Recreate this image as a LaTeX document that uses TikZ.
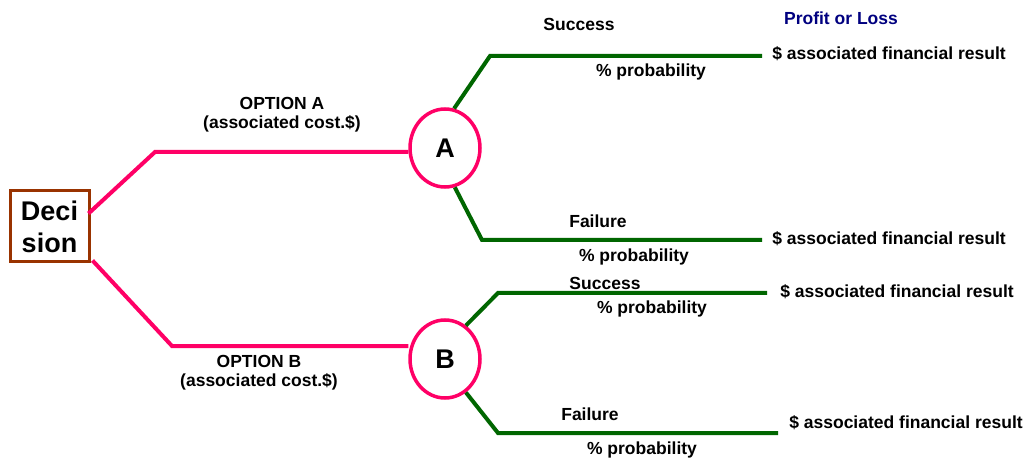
\documentclass[tikz,border=0pt]{standalone}
\usepackage{fontspec}
\setmainfont{Liberation Sans}
\usetikzlibrary{shapes.geometric}
\definecolor{pinkc}{HTML}{FF0066}
\definecolor{greenc}{HTML}{006600}
\definecolor{brownc}{HTML}{993300}
\definecolor{navyc}{HTML}{000080}
\begin{document}
\begin{tikzpicture}[x=1pt,y=-1pt,
  lbl/.style={font=\fontsize{17.5}{20}\selectfont\bfseries, inner sep=0pt, anchor=center},
  big/.style={font=\fontsize{27}{31}\selectfont\bfseries},
  pinkline/.style={draw=pinkc, line width=4pt},
  greenline/.style={draw=greenc, line width=4pt},
  chance/.style={ellipse, draw=pinkc, line width=3.5pt, minimum width=70pt, minimum height=78pt, inner sep=0pt, big}
]
\useasboundingbox[fill=white] (0,0) rectangle (1034,465);
% decision box
\node[draw=brownc, line width=3pt, minimum width=79pt, minimum height=71pt, inner sep=0pt, big, align=center] (dec) at (49.5,226.5) {Deci\\[1pt]sion};
% chance nodes
\node[chance] (A) at (445,148) {A};
\node[chance] (B) at (445,359) {B};
% bends
\coordinate (a1) at (155,152);
\coordinate (b1) at (172,346);
\coordinate (as) at (490,56);
\coordinate (ase) at (762,56);
\coordinate (af) at (482,240);
\coordinate (afe) at (762,240);
\coordinate (bs) at (498,293);
\coordinate (bse) at (767,293);
\coordinate (bf) at (498,433);
\coordinate (bfe) at (778,433);
% pink connectors
\draw[pinkline] ([yshift=13pt]dec.east) ++(-2,0) -- (a1) -- (A.west |- a1);
\draw[pinkline] ([yshift=-34pt]dec.east) ++(2,0) -- (b1) -- (B.west |- b1);
% green connectors
\draw[greenline] (A.77) -- (as) -- (ase);
\draw[greenline] (A.-76) -- (af) -- (afe);
\draw[greenline] (B.58) -- (bs) -- (bse);
\draw[greenline] (B.-58) -- (bf) -- (bfe);
% labels
\node[lbl] (t1) at (579,24) {Success};
\node[lbl, text=navyc] (t2) at (841,18) {Profit or Loss};
\node[lbl] (t3) at (889,54) {\$ associated financial result};
\node[lbl] (t4) at (651,72) {\% probability};
\node[lbl] (t5) at (282,103) {OPTION A};
\node[lbl] (t6) at (282,124) {(associated cost.\$)};
\node[lbl] (t7) at (598,221) {Failure};
\node[lbl] (t8) at (889,239) {\$ associated financial result};
\node[lbl] (t9) at (634,257) {\% probability};
\node[lbl] (t10) at (605,283) {Success};
\node[lbl] (t11) at (652,309) {\% probability};
\node[lbl] (t12) at (897,292) {\$ associated financial result};
\node[lbl] (t13) at (259,361) {OPTION B};
\node[lbl] (t14) at (259,382) {(associated cost.\$)};
\node[lbl] (t15) at (590,414) {Failure};
\node[lbl] (t16) at (642,450) {\% probability};
\node[lbl] (t17) at (906,423) {\$ associated financial result};
\end{tikzpicture}
\end{document}
